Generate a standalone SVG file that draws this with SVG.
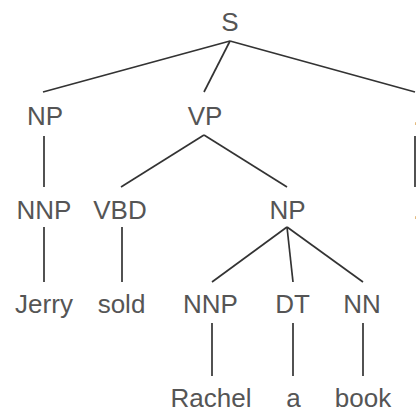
<svg xmlns="http://www.w3.org/2000/svg" width="416" height="411" viewBox="0 0 416 411">
  <style>
    text { font-family: "Liberation Sans", Arial, sans-serif; font-size: 26px; fill: #555; text-anchor: middle; }
    .edge { stroke: #333; stroke-width: 1.7; fill: none; stroke-linecap: butt; }
  </style>
  <rect width="416" height="411" fill="#fff"/>

  <!-- tree branches -->
  <g id="connectors">
    <line class="edge" x1="230" y1="41" x2="43" y2="92"/>
    <line class="edge" x1="230" y1="41" x2="204" y2="92"/>
    <line class="edge" x1="230" y1="41" x2="415" y2="92"/>
    <line class="edge" x1="44" y1="136" x2="44" y2="187"/>
    <line class="edge" x1="204" y1="135" x2="121" y2="187"/>
    <line class="edge" x1="204" y1="135" x2="287" y2="187"/>
    <line class="edge" x1="415" y1="136" x2="415" y2="187"/>
    <line class="edge" x1="44" y1="227" x2="44" y2="282"/>
    <line class="edge" x1="122" y1="227" x2="122" y2="282"/>
    <line class="edge" x1="287" y1="227" x2="212" y2="282"/>
    <line class="edge" x1="287" y1="227" x2="293" y2="282"/>
    <line class="edge" x1="287" y1="227" x2="363" y2="282"/>
    <line class="edge" x1="212" y1="323" x2="212" y2="376"/>
    <line class="edge" x1="293" y1="323" x2="293" y2="376"/>
    <line class="edge" x1="363" y1="323" x2="363" y2="376"/>
  </g>

  <g id="S"><text x="230" y="31">S</text></g>
  <g id="NP-subj"><text x="45" y="125">NP</text></g>
  <g id="VP"><text x="205" y="125">VP</text></g>
  <g id="punct"><text x="416.8" y="125">.</text></g>
  <g id="NNP-Jerry"><text x="44" y="219">NNP</text></g>
  <g id="VBD"><text x="120" y="219">VBD</text></g>
  <g id="NP-obj"><text x="287.5" y="219">NP</text></g>
  <g id="punct-leaf"><text x="416.8" y="219">.</text></g>
  <g id="Jerry"><text x="44" y="313">Jerry</text></g>
  <g id="sold"><text x="121.5" y="313">sold</text></g>
  <g id="NNP-Rachel"><text x="210.5" y="313">NNP</text></g>
  <g id="DT"><text x="292.5" y="313">DT</text></g>
  <g id="NN"><text x="362" y="313">NN</text></g>
  <g id="Rachel"><text x="211" y="407">Rachel</text></g>
  <g id="a"><text x="293.5" y="407">a</text></g>
  <g id="book"><text x="363" y="407">book</text></g>
</svg>
